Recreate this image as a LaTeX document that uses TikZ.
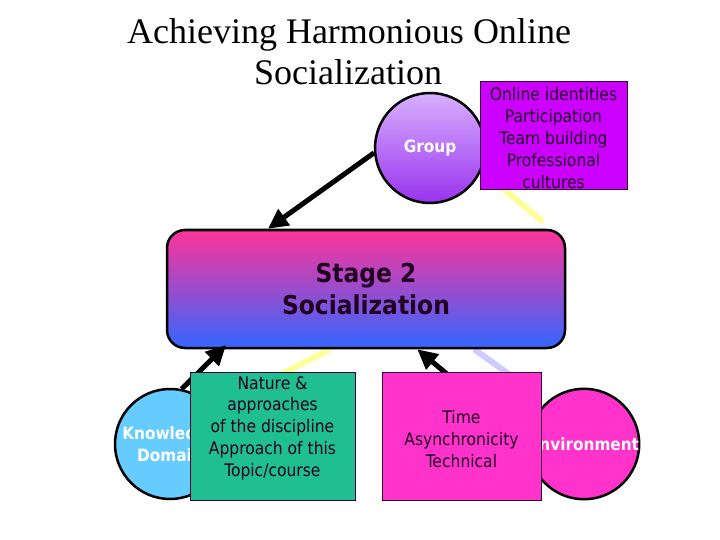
\documentclass[tikz,border=0pt]{standalone}
\usepackage{fontspec}
\setmainfont{Liberation Serif}
\newfontfamily\tah{DejaVu Sans Condensed}
\usetikzlibrary{arrows.meta,calc}
\pgfdeclarelayer{back}
\pgfdeclarelayer{bg}
\pgfsetlayers{back,bg,main}
\definecolor{grpTop}{HTML}{D8B0FF}
\definecolor{grpBot}{HTML}{9933EE}
\definecolor{purp}{HTML}{CC00FF}
\definecolor{stTop}{HTML}{FF3399}
\definecolor{stBot}{HTML}{3366FF}
\definecolor{kblue}{HTML}{66CCFF}
\definecolor{grn}{HTML}{1FBF8F}
\definecolor{pnk}{HTML}{FF33CC}
\definecolor{yel}{HTML}{FFFF99}
\definecolor{lav}{HTML}{CCCCFF}
\definecolor{boxline}{HTML}{330033}
\definecolor{dtext}{HTML}{220022}
\begin{document}
\begin{tikzpicture}[x=1pt,y=-1pt,
  title/.style={anchor=base,inner sep=0,font=\fontsize{36}{40}\selectfont},
  bubble/.style={circle,draw=black,line width=2.5pt,minimum size=110,inner sep=0,
    text=white,align=center,font=\tah\bfseries\fontsize{17}{22}\selectfont},
  infobox/.style={rectangle,draw=boxline,line width=1pt,inner sep=0},
  infotext/.style={inner sep=0,align=center,text=dtext,font=\tah\fontsize{17.3}{21.8}\selectfont},
  arr/.style={line width=5pt,-{Triangle[length=20pt,width=19pt]}},
  thinline/.style={line width=6pt}]
\useasboundingbox (0,0) rectangle (720,540);
\begin{pgfonlayer}{back}
\fill[white] (0,0) rectangle (720,540);
\end{pgfonlayer}

% title
\node[title] (t1) at (349,44) {Achieving Harmonious Online};
\node[title] (t2) at (348,85) {Socialization};

% stage box
\node[rectangle,rounded corners=18pt,draw=black,line width=2.5pt,
  top color=stTop,bottom color=stBot,minimum width=398,minimum height=118,
  align=center,text=dtext,font=\tah\bfseries\fontsize{26}{32}\selectfont]
  (stage) at (366,289) {Stage 2\\Socialization};

% circles
\node[bubble,top color=grpTop,bottom color=grpBot] (grp) at (430,148) {Group};
\node[bubble,fill=kblue] (kn) at (170,444) {Knowledge\\Domain};
\node[bubble,fill=pnk] (env) at (584,444) {Environment};

% purple box
\node[infobox,fill=purp,minimum width=147,minimum height=108] (pbox) at (553.5,136) {};
\node[infotext] (ptext) at (553.5,138) {Online identities\\Participation\\Team building\\Professional\\cultures};

% background lines
\begin{pgfonlayer}{bg}
\coordinate (y1e) at (543,222);
\draw[thinline,yel] ($(pbox.south west)!0.2!(pbox.north west)$) -- (y1e);
\draw[thinline,yel] ($(stage.south west)!0.41!(stage.south east)$) -- ($(stage.south)!1!(stage.south)+(-106,36)$);
\draw[thinline,lav] ($(stage.south west)!0.77!(stage.south east)$) -- ($(stage.south)+(160,37)$);
\end{pgfonlayer}

% arrows
\draw[arr] (grp.185) -- ($(stage.north west)!0.255!(stage.north east)$);
\draw[arr,shorten >=-6pt] (kn.78) -- ($(stage.south west)!0.14!(stage.south east)$);
\coordinate (kstart) at (447,374);
\draw[arr] (kstart) -- ($(stage.south west)!0.628!(stage.south east)$);

% lower boxes
\node[infobox,fill=grn,minimum width=165,minimum height=128] (gbox) at (272.5,436) {};
\node[infotext] (gtext) at (272.5,428) {Nature \&\\approaches\\of the discipline\\Approach of this\\Topic/course};
\node[infobox,fill=pnk,minimum width=159,minimum height=128] (kbox) at (461.5,436) {};
\node[infotext] (ktext) at (461.5,439) {Time\\Asynchronicity\\Technical};
\end{tikzpicture}
\end{document}
